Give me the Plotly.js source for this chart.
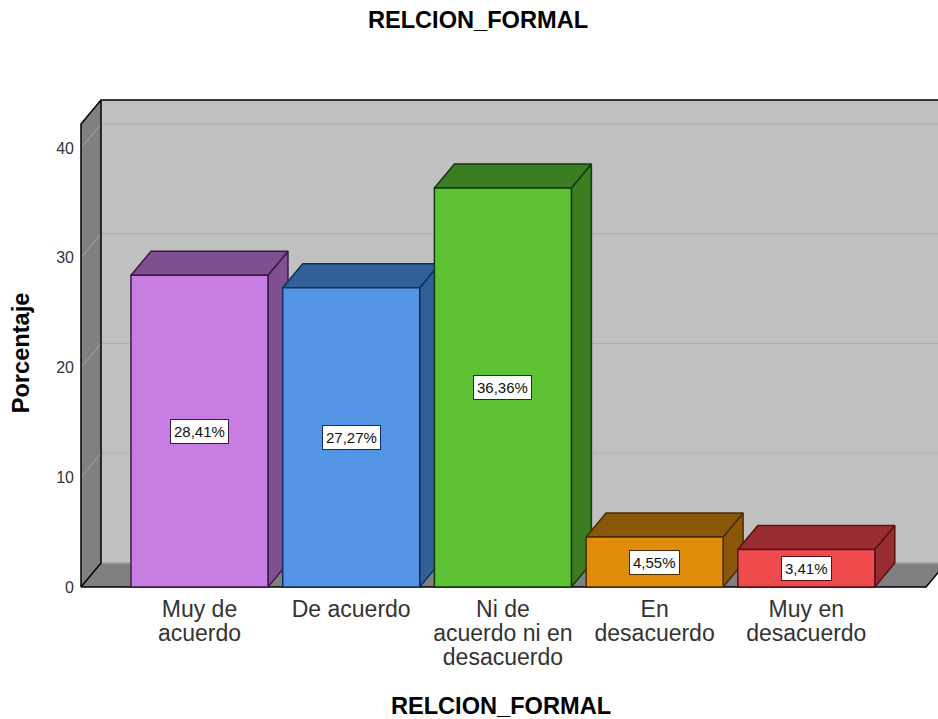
<!DOCTYPE html>
<html><head><meta charset="utf-8">
<script src="https://cdn.plot.ly/plotly-3.0.1.min.js"></script>
<style>html,body{margin:0;padding:0;background:#fff;overflow:hidden}</style>
</head><body><div id="chart" style="width:938px;height:719px"></div>
<script>
const categories = ["Muy de<br>acuerdo","De acuerdo","Ni de<br>acuerdo ni en<br>desacuerdo","En<br>desacuerdo","Muy en<br>desacuerdo"];
const values = [28.41,27.27,36.36,4.55,3.41];
const yTicks = [0,10,20,30,40];
const frontColors = ["#c87de2","#5595e6","#5cc234","#e08d0c","#ef4b4f"];
const depthColors = ["#7f4f8f","#335f99","#3d7d22","#8a5708","#992c30"];
const edgeColors  = ["#3a1a4a","#10305e","#123a0c","#4a2c02","#5a1014"];

// scene geometry in axis units
const xL=-0.781, xFR=4.789, dx=0.1318, dy=2.187, yTop=42.19, barW=0.903;
const xRange=[xL,4.756], yRange=[0,42.64];                // labelled axes
const sceneX=[xL-2/151.7,4.868], sceneY=[-2/10.975,44.56]; // drawing area, slightly larger
const pos=categories.map((c,i)=>i);

function poly(x,y,fill,lineColor,lineW){
  return {type:'scatter',mode:'lines',x,y,fill:'toself',fillcolor:fill,
    line:{color:lineColor,width:lineW},showlegend:false,hoverinfo:'skip',xaxis:'x2',yaxis:'y2'};
}
function seg(x,y,color,w){
  return {type:'scatter',mode:'lines',x,y,line:{color,width:w},showlegend:false,hoverinfo:'skip',xaxis:'x2',yaxis:'y2'};
}
const traces=[];
// back wall, left wall, floor
traces.push(poly([xL+dx,xFR+dx,xFR+dx,xL+dx,xL+dx],[dy,dy,yTop+dy,yTop+dy,dy],'#c0c0c0','rgba(0,0,0,0)',0));
traces.push(poly([xL,xL+dx,xL+dx,xL,xL],[0,dy,yTop+dy,yTop,0],'#808080','rgba(0,0,0,0)',0));
traces.push(poly([xL,xFR,xFR+dx,xL+dx,xL],[0,0,dy,dy,0],'#808080','rgba(0,0,0,0)',0));
// gridlines
yTicks.forEach(v=>{
  traces.push(seg([xL,xL+dx],[v,v+dy],'#a6a6a6',1));
  if(v>0) traces.push(seg([xL+dx,xFR+dx],[v+dy,v+dy],'#aeaeae',1));
});
traces.push(seg([xL+dx,xFR+dx],[dy,dy],'#a0a0a0',1.5));
// frame
traces.push(seg([xL,xL,xL+dx,xFR+dx],[0,yTop,yTop+dy,yTop+dy],'#000',1.5));
traces.push(seg([xL+dx,xL+dx,xL],[yTop+dy,dy,0],'#000',1.5));
traces.push(seg([xL,xFR,xFR+dx],[0,0,dy],'#000',1.5));
// bar depth faces
pos.forEach(i=>{
  const h=values[i], l=i-barW/2, r=i+barW/2;
  traces.push(poly([r,r+dx,r+dx,r,r],[0,dy,h+dy,h,0],depthColors[i],edgeColors[i],1.5));
  traces.push(poly([l,r,r+dx,l+dx,l],[h,h,h+dy,h+dy,h],depthColors[i],edgeColors[i],1.5));
});
// bar fronts, on an overlay so they cover the neighbour's side
traces.push({type:'bar',x:pos,y:values,width:barW,xaxis:'x3',yaxis:'y3',
  marker:{color:frontColors,line:{color:edgeColors,width:1.5}},showlegend:false,hoverinfo:'skip'});

const annotations=pos.map(i=>({xref:'x',yref:'y',x:i,y:values[i]/2,
  text:values[i].toFixed(2).replace('.',',')+'%',showarrow:false,
  font:{family:'Liberation Sans, Arial, sans-serif',size:15,color:'#111'},
  bgcolor:'#fff',bordercolor:edgeColors[i],borderwidth:1,borderpad:3}));

const titleFont={family:'Liberation Sans, Arial, sans-serif',size:23.6,color:'#000',weight:700};
const W=938-79, H=589-98;
const layout={
  width:938,height:719,autosize:false,paper_bgcolor:'#fff',plot_bgcolor:'rgba(0,0,0,0)',
  margin:{l:79,r:0,t:98,b:130},showlegend:false,barmode:'overlay',
  title:{text:'RELCION_FORMAL',font:titleFont,x:478/938,xanchor:'center',y:1-20/719,yanchor:'middle'},
  xaxis:{domain:[2/W,842/W],anchor:'y',range:xRange,tickmode:'array',tickvals:pos,ticktext:categories,showgrid:false,zeroline:false,showline:false,
    ticks:'',tickangle:0,ticklabelstandoff:6,tickfont:{family:'Liberation Sans, Arial, sans-serif',size:23,color:'#333'},
    title:{text:'RELCION_FORMAL',font:titleFont,standoff:20}},
  yaxis:{domain:[2/H,470/H],anchor:'x',range:yRange,tickmode:'array',tickvals:yTicks,ticktext:yTicks.map(String),showgrid:false,zeroline:false,showline:false,
    ticks:'',ticklabelstandoff:6,tickfont:{family:'Liberation Sans, Arial, sans-serif',size:16,color:'#333'},
    title:{text:'Porcentaje',font:titleFont,standoff:19}},
  xaxis2:{domain:[0,1],anchor:'y2',range:sceneX,visible:false},
  yaxis2:{domain:[0,1],anchor:'x2',range:sceneY,visible:false},
  xaxis3:{overlaying:'x2',anchor:'y3',range:sceneX,visible:false},
  yaxis3:{overlaying:'y2',anchor:'x3',range:sceneY,visible:false},
  annotations
};
Plotly.newPlot('chart',traces,layout,{displayModeBar:false,staticPlot:true}).then(gd=>{
  // tighten the multi-line category labels to the reference's leading
  gd.querySelectorAll('.xtick tspan.line').forEach(t=>{
    const d=parseFloat(t.getAttribute('dy'));
    if(!isNaN(d)) t.setAttribute('dy',(d*0.8)+'em');
  });
});
</script></body></html>
